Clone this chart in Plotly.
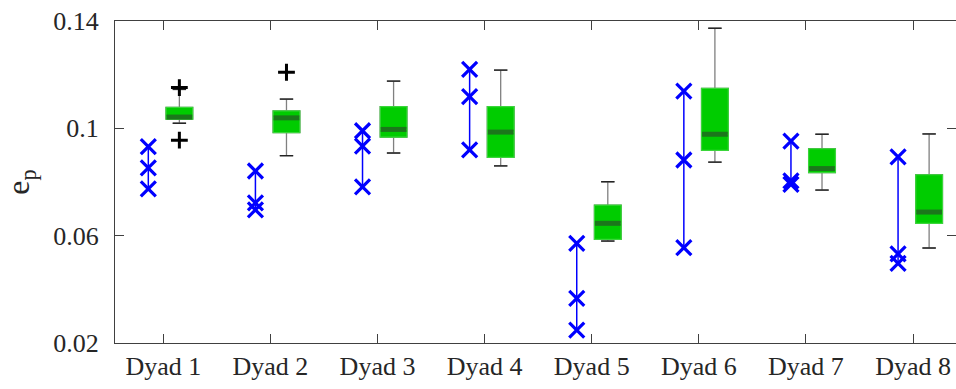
import plotly.graph_objects as go

# ---- data ----
dyads = ["Dyad 1", "Dyad 2", "Dyad 3", "Dyad 4", "Dyad 5", "Dyad 6", "Dyad 7", "Dyad 8"]
positions = [1, 2, 3, 4, 5, 6, 7, 8]
q1 = [0.1034, 0.0984, 0.0967, 0.0892, 0.0586, 0.0918, 0.0835, 0.0646]
median = [0.1042, 0.1039, 0.0996, 0.0986, 0.0646, 0.0978, 0.0850, 0.0688]
q3 = [0.1078, 0.1065, 0.1081, 0.1081, 0.0714, 0.1149, 0.0924, 0.0827]
lower_whisker = [0.1019, 0.0898, 0.0908, 0.0860, 0.0580, 0.0874, 0.0770, 0.0554]
upper_whisker = [0.1145, 0.1109, 0.1176, 0.1217, 0.0801, 0.1373, 0.0978, 0.0979]
outlier_dyad = [1, 1, 2]
outlier_value = [0.1152, 0.0956, 0.1209]
crosses = [
    [0.0932, 0.0853, 0.0774],
    [0.0841, 0.0722, 0.0696],
    [0.0991, 0.0934, 0.0782],
    [0.1220, 0.1118, 0.0920],
    [0.0571, 0.0366, 0.0248],
    [0.1139, 0.0882, 0.0555],
    [0.0952, 0.0804, 0.0791],
    [0.0894, 0.0532, 0.0497],
]
y_ticks = [0.02, 0.06, 0.1, 0.14]
y_tick_text = ["0.02", "0.06", "0.1", "0.14"]

# ---- styling ----
BOX_OFF = 0.15
X_OFF = -0.14
BOX_W = 0.25
CAP_W = 0.125
GREEN = "#00cc00"
FONT = "Liberation Serif, Times New Roman, serif"
AX = "#404040"

box_x = [p + BOX_OFF for p in positions]

fig = go.Figure()

# box with whiskers (gray)
fig.add_trace(go.Box(
    x=box_x, q1=q1, median=median, q3=q3,
    lowerfence=lower_whisker, upperfence=upper_whisker,
    width=BOX_W, whiskerwidth=0.5, boxpoints=False,
    fillcolor=GREEN, line=dict(color="#808080", width=1.3),
    hoverinfo="skip", showlegend=False,
))
# green box body covering outline
fig.add_trace(go.Box(
    x=box_x, q1=q1, median=median, q3=q3,
    lowerfence=q1, upperfence=q3,
    width=BOX_W, whiskerwidth=0, boxpoints=False,
    fillcolor=GREEN, line=dict(color="#3ad63a", width=1.2),
    hoverinfo="skip", showlegend=False,
))

# median bands
mx, my = [], []
for c, m in zip(box_x, median):
    mx += [c - BOX_W / 2 + 0.005, c + BOX_W / 2 - 0.005, None]
    my += [m, m, None]
fig.add_trace(go.Scatter(x=mx, y=my, mode="lines",
                         line=dict(color="#1b771b", width=5),
                         hoverinfo="skip", showlegend=False))

# whisker caps (dark)
cx, cy = [], []
for c, lo, hi in zip(box_x, lower_whisker, upper_whisker):
    for v in (lo, hi):
        cx += [c - CAP_W / 2, c + CAP_W / 2, None]
        cy += [v, v, None]
fig.add_trace(go.Scatter(x=cx, y=cy, mode="lines",
                         line=dict(color="#222222", width=1.4),
                         hoverinfo="skip", showlegend=False))

# outliers
fig.add_trace(go.Scatter(
    x=[d + BOX_OFF for d in outlier_dyad], y=outlier_value, mode="markers",
    marker=dict(symbol="cross-thin", size=12, color="black",
                line=dict(color="black", width=3)),
    hoverinfo="skip", showlegend=False))

# blue crosses connected by vertical lines
bx, by = [], []
for p, vals in zip(positions, crosses):
    for v in sorted(vals):
        bx.append(p + X_OFF)
        by.append(v)
    bx.append(None)
    by.append(None)
fig.add_trace(go.Scatter(
    x=bx, y=by, mode="lines+markers",
    line=dict(color="#0000ff", width=1.5),
    marker=dict(symbol="x-thin", size=15, color="#0000ff",
                line=dict(color="#0000ff", width=3.2)),
    hoverinfo="skip", showlegend=False))

fig.update_layout(
    width=956, height=389,
    margin=dict(l=115, r=0, t=21, b=46),
    paper_bgcolor="white", plot_bgcolor="white",
    boxmode="overlay",
    font=dict(family=FONT, size=26, color="#262626"),
    xaxis=dict(
        range=[0.549, 8.401], tickmode="array", tickvals=positions, ticktext=dyads,
        ticks="inside", ticklen=9, tickcolor=AX, tickwidth=1.3,
        showline=True, linecolor=AX, linewidth=1.3, mirror="ticks",
        showgrid=False, zeroline=False,
        tickfont=dict(family=FONT, size=26, color="#262626"),
    ),
    yaxis=dict(
        range=[0.02, 0.14], tickmode="array", tickvals=y_ticks, ticktext=y_tick_text,
        ticks="inside", ticklen=9, tickcolor=AX, tickwidth=1.3,
        showline=True, linecolor=AX, linewidth=1.3, mirror="ticks",
        showgrid=False, zeroline=False, ticklabelstandoff=10,
        tickfont=dict(family=FONT, size=26, color="#262626"),
        title=dict(text="e<sub>p</sub>", font=dict(family=FONT, size=32, color="#262626"),
                   standoff=18),
    ),
)

fig.write_html("out.html", config={"displayModeBar": False},
               post_script="document.body.style.margin='0';")
